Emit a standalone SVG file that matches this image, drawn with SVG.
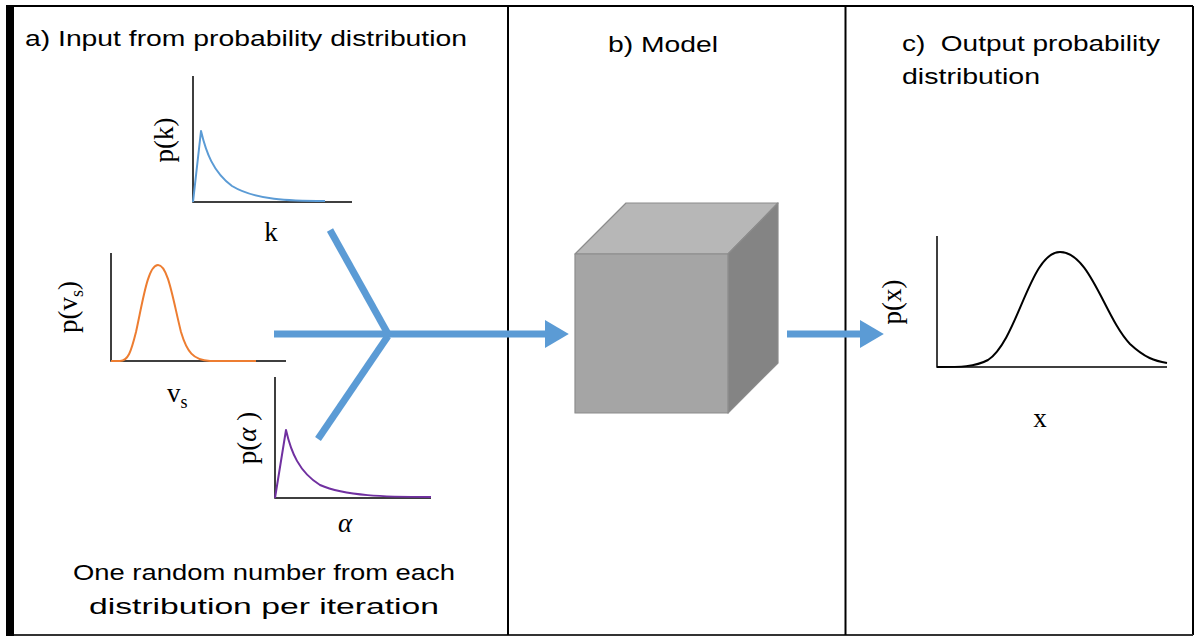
<svg xmlns="http://www.w3.org/2000/svg" width="1196" height="636" viewBox="0 0 1196 636">
  <defs>
    <style>
      .title { font-family: "Liberation Sans", Arial, sans-serif; font-size: 22px; fill: #000; }
      .math { font-family: "Liberation Serif", "Times New Roman", serif; font-size: 27px; fill: #000; }
      .axis { fill: none; stroke: #000; stroke-width: 1.5; }
      .frame { fill: none; stroke: #000; stroke-width: 2; }
      .flow { fill: none; stroke: #5B9BD5; stroke-width: 7; }
      .curve { fill: none; stroke-width: 2; stroke-linejoin: round; }
    </style>
    <marker id="head" markerWidth="4" markerHeight="4" refX="0" refY="2" orient="auto" markerUnits="strokeWidth" viewBox="0 0 4 4">
      <path d="M0,0 L3.4,2 L0,4 Z" fill="#5B9BD5"/>
    </marker>
  </defs>

  <rect width="1196" height="636" fill="#fff"/>

  <!-- panel frame -->
  <g id="frame">
    <line class="frame" x1="6" y1="6" x2="1193" y2="6"/>
    <line class="frame" x1="1193" y1="6" x2="1193" y2="635"/>
    <line x1="6" y1="635" x2="1193" y2="635" stroke="#333" stroke-width="2"/>
    <rect x="6" y="5" width="8" height="631" fill="#000"/>
    <line class="frame" x1="508" y1="6" x2="508" y2="635"/>
    <line class="frame" x1="845.5" y1="6" x2="845.5" y2="635"/>
  </g>

  <!-- panel headings -->
  <g id="headings">
    <text class="title" x="25" y="46" textLength="442" lengthAdjust="spacingAndGlyphs">a) Input from probability distribution</text>
    <text class="title" x="608" y="52" textLength="110" lengthAdjust="spacingAndGlyphs">b) Model</text>
    <text class="title" x="902" y="51" textLength="258" lengthAdjust="spacingAndGlyphs">c)&#160; Output probability</text>
    <text class="title" x="902" y="84" textLength="138" lengthAdjust="spacingAndGlyphs">distribution</text>
  </g>

  <!-- input distribution k -->
  <g id="dist-k">
    <path class="axis" d="M193,76 V202 H352"/>
    <path class="curve" stroke="#5B9BD5" d="M193,202 L201,131 C206,152 213,172 232,186 C255,200 290,201 325,201"/>
    <text class="math" transform="translate(173,140) rotate(-90)" text-anchor="middle">p(k)</text>
    <text class="math" x="271" y="241" text-anchor="middle">k</text>
  </g>

  <!-- input distribution v_s -->
  <g id="dist-vs">
    <path class="axis" d="M111,253 V361 H286"/>
    <path class="curve" stroke="#ED7D31" d="M111,361 L120,361 C128,361 131,352 136,332 C143,300 148,265 158,265 C168,265 173,300 181,332 C187,352 193,360 210,361 L256,361"/>
    <text class="math" transform="translate(77,307) rotate(-90)" text-anchor="middle">p(v<tspan font-size="18" dy="6">s</tspan><tspan dy="-6">)</tspan></text>
    <text class="math" x="167" y="402">v<tspan font-size="18" dy="6">s</tspan></text>
  </g>

  <!-- input distribution alpha -->
  <g id="dist-alpha">
    <path class="axis" d="M275,377 V498 H431"/>
    <path class="curve" stroke="#7030A0" d="M275,498 L286,430 C291,452 299,472 320,485 C345,496 385,497 431,497"/>
    <text class="math" transform="translate(256,438) rotate(-90)" text-anchor="middle">p(<tspan font-style="italic">α</tspan> )</text>
    <text class="math" x="345" y="532" text-anchor="middle" font-style="italic">α</text>
  </g>

  <g id="caption">
    <text class="title" x="264" y="580" text-anchor="middle" textLength="382" lengthAdjust="spacingAndGlyphs">One random number from each</text>
    <text class="title" x="264" y="614" text-anchor="middle" textLength="350" lengthAdjust="spacingAndGlyphs">distribution per iteration</text>
  </g>

  <!-- model block -->
  <g id="model" stroke="#8C8C8C" stroke-width="1.2" stroke-linejoin="round">
    <polygon points="575,254 626,203 778,203 728,254" fill="#B7B7B7"/>
    <polygon points="728,254 778,203 778,363 728,413" fill="#848484"/>
    <rect x="575" y="254" width="153" height="159" fill="#A5A5A5"/>
  </g>

  <!-- output distribution -->
  <g id="dist-x">
    <path class="axis" d="M937,236 V367 H1167"/>
    <path class="curve" stroke="#000" d="M937,367 C960,367 975,367 988,360 C1018,340 1030,252 1060,252 C1090,252 1105,318 1130,344 C1145,358 1155,361 1167,363"/>
    <text class="math" transform="translate(901,302) rotate(-90)" text-anchor="middle">p(x)</text>
    <text class="math" x="1040" y="427" text-anchor="middle">x</text>
  </g>

  <!-- connectors -->
  <g id="connectors">
    <line class="flow" x1="330" y1="230" x2="388" y2="334"/>
    <line class="flow" x1="318" y1="439" x2="388" y2="336"/>
    <line class="flow" x1="274" y1="334" x2="545" y2="334" marker-end="url(#head)"/>
    <line class="flow" x1="787" y1="334" x2="860" y2="334" marker-end="url(#head)"/>
  </g>
</svg>
